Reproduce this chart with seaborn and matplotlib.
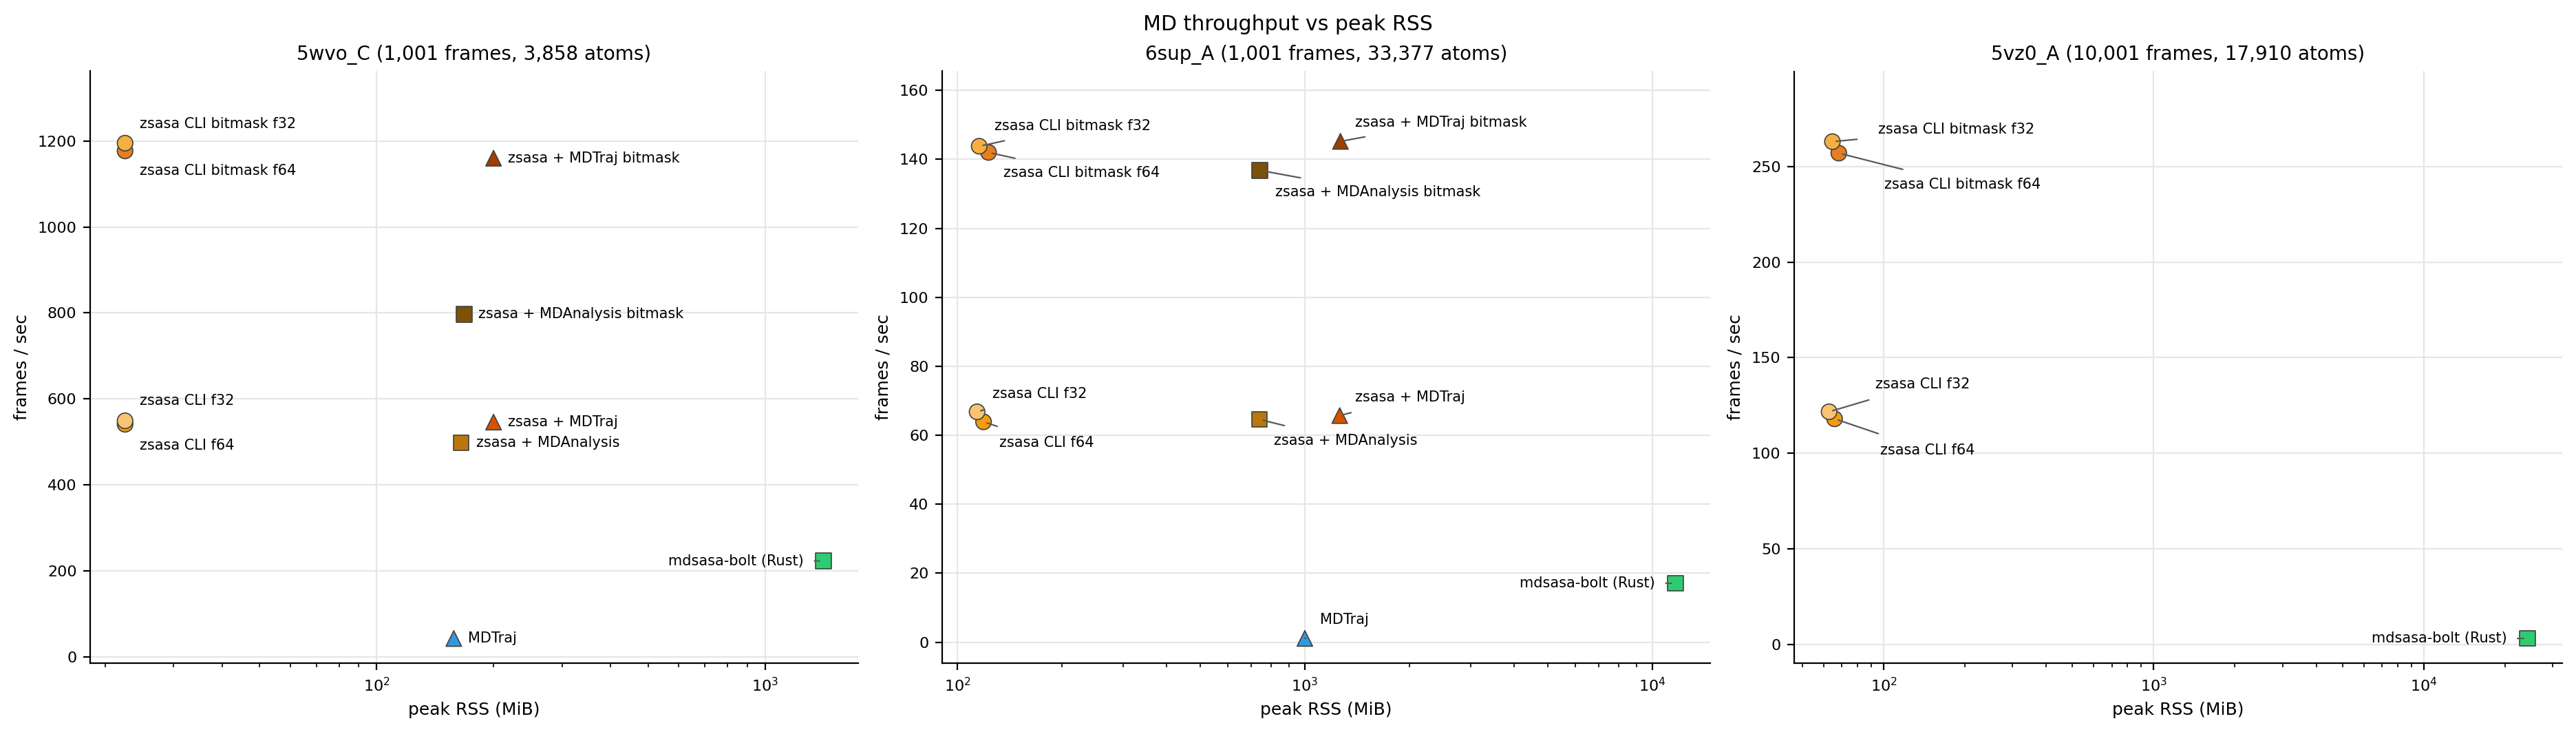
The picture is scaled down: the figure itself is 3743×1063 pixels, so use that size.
import numpy as np
import pandas as pd
import matplotlib
matplotlib.use("Agg")
import matplotlib.pyplot as plt
import seaborn as sns

# ---------------- data ----------------
suptitle = "MD throughput vs peak RSS"
panel_titles = ["5wvo_C (1,001 frames, 3,858 atoms)",
                "6sup_A (1,001 frames, 33,377 atoms)",
                "5vz0_A (10,001 frames, 17,910 atoms)"]

# panel 1: 5wvo_C
p1_tools = ["zsasa CLI bitmask f64", "zsasa CLI bitmask f32", "zsasa CLI f64", "zsasa CLI f32",
            "zsasa + MDTraj bitmask", "zsasa + MDTraj", "zsasa + MDAnalysis bitmask",
            "zsasa + MDAnalysis", "MDTraj", "mdsasa-bolt (Rust)"]
p1_rss = [22.5, 22.5, 22.5, 22.5, 200, 200, 168, 165, 158, 1413]
p1_fps = [1177, 1195, 541, 549, 1160, 546, 797, 498, 42.5, 223]

# panel 2: 6sup_A
p2_tools = p1_tools
p2_rss = [123, 115.6, 119, 114, 1266, 1260, 742, 740, 1000, 11640]
p2_fps = [142.0, 143.8, 63.9, 66.8, 145.2, 65.7, 136.8, 64.6, 1.1, 17.1]

# panel 3: 5vz0_A
p3_tools = ["zsasa CLI bitmask f64", "zsasa CLI bitmask f32", "zsasa CLI f64", "zsasa CLI f32",
            "mdsasa-bolt (Rust)"]
p3_rss = [68.2, 64.6, 65.8, 62.8, 24200]
p3_fps = [257, 263, 118, 121.7, 3.1]

palette = {
    "zsasa CLI bitmask f64": "#e67e22",
    "zsasa CLI bitmask f32": "#f5b041",
    "zsasa CLI f64": "#f39c12",
    "zsasa CLI f32": "#f8c471",
    "zsasa + MDTraj bitmask": "#a04000",
    "zsasa + MDTraj": "#d35400",
    "zsasa + MDAnalysis bitmask": "#7e5109",
    "zsasa + MDAnalysis": "#b9770e",
    "MDTraj": "#3498db",
    "mdsasa-bolt (Rust)": "#2ecc71",
}
markers = {
    "zsasa CLI bitmask f64": "o", "zsasa CLI bitmask f32": "o",
    "zsasa CLI f64": "o", "zsasa CLI f32": "o",
    "zsasa + MDTraj bitmask": "^", "zsasa + MDTraj": "^",
    "zsasa + MDAnalysis bitmask": "s", "zsasa + MDAnalysis": "s",
    "MDTraj": "^", "mdsasa-bolt (Rust)": "s",
}

# label placement (offset points) per panel: (dx, dy, ha, draw_line)
label_pos = [
    {
        "zsasa CLI bitmask f64": (7.5, -10.4, "left", False),
        "zsasa CLI bitmask f32": (7.5, 9.9, "left", False),
        "zsasa CLI f64": (7.5, -11.2, "left", False),
        "zsasa CLI f32": (7.5, 10.3, "left", False),
        "zsasa + MDTraj bitmask": (7.5, 0, "left", False),
        "zsasa + MDTraj": (7.5, 0, "left", False),
        "zsasa + MDAnalysis bitmask": (7.5, 0, "left", False),
        "zsasa + MDAnalysis": (8, 0, "left", False),
        "MDTraj": (7.3, 0, "left", False),
        "mdsasa-bolt (Rust)": (-10.3, 0, "right", True),
    },
    {
        "zsasa CLI bitmask f64": (7.7, -10.8, "left", True),
        "zsasa CLI bitmask f32": (8, 10.5, "left", True),
        "zsasa CLI f64": (8.2, -11, "left", True),
        "zsasa CLI f32": (8, 9.3, "left", True),
        "zsasa + MDTraj bitmask": (7.8, 9.8, "left", True),
        "zsasa + MDTraj": (8, 9.6, "left", True),
        "zsasa + MDAnalysis bitmask": (8, -11.3, "left", True),
        "zsasa + MDAnalysis": (7.6, -11.2, "left", True),
        "MDTraj": (8, 9.8, "left", True),
        "mdsasa-bolt (Rust)": (-10.6, 0, "right", True),
    },
    {
        "zsasa CLI bitmask f64": (24, -16.5, "left", True),
        "zsasa CLI bitmask f32": (24, 6.2, "left", True),
        "zsasa CLI f64": (23.7, -16.4, "left", True),
        "zsasa CLI f32": (24.2, 14.5, "left", True),
        "mdsasa-bolt (Rust)": (-10.8, 0, "right", True),
    },
]

panels = [(p1_tools, p1_rss, p1_fps), (p2_tools, p2_rss, p2_fps), (p3_tools, p3_rss, p3_fps)]

# ---------------- style ----------------
sns.set_style("ticks", rc={
    "axes.edgecolor": "black", "axes.labelcolor": "black", "text.color": "black",
    "xtick.color": "black", "ytick.color": "black",
})
plt.rcParams["font.family"] = ["DejaVu Sans"]
plt.rcParams["font.size"] = 9
plt.rcParams["axes.linewidth"] = 0.8

W, H = 3743, 1063
fig, axes = plt.subplots(1, 3, figsize=(W / 200, H / 200), dpi=200)
fig.subplots_adjust(left=131 / W, right=3723 / W, top=1 - 103.5 / H,
                    bottom=1 - 963.2 / H, wspace=122 / 1116)

for i, (ax, (tools, rss, fps)) in enumerate(zip(axes, panels)):
    df = pd.DataFrame({"tool": tools, "rss": rss, "fps": fps})
    sns.scatterplot(data=df, x="rss", y="fps", hue="tool", style="tool",
                    palette={t: palette[t] for t in tools},
                    markers={t: markers[t] for t in tools},
                    s=66, edgecolor="0.25", linewidth=0.6, legend=False,
                    ax=ax, zorder=3)
    ax.set_xscale("log")
    ax.set_ylim(top=max(fps) * 1.14)
    ax.grid(True, which="major", color="#e6e6e6", linewidth=0.8)
    ax.set_axisbelow(True)
    ax.set_title(panel_titles[i], fontsize=10)
    ax.set_xlabel("peak RSS (MiB)", fontsize=9)
    ax.set_ylabel("frames / sec", fontsize=9)
    ax.tick_params(axis="both", which="major", labelsize=8)

    for t, x, y in zip(tools, rss, fps):
        dx, dy, ha, line = label_pos[i][t]
        if line:
            shrinkA = 3.5 if ha == "right" else 9
            ap = dict(arrowstyle="-", color="0.35", lw=0.8, shrinkA=shrinkA, shrinkB=2)
        else:
            ap = None
        ax.annotate(t, xy=(x, y), xytext=(dx, dy), textcoords="offset points",
                    ha=ha, va="center", fontsize=7.5, arrowprops=ap, zorder=4)

sns.despine(fig=fig)
fig.suptitle(suptitle, fontsize=10.8)
fig.savefig("out.png", dpi=200)
